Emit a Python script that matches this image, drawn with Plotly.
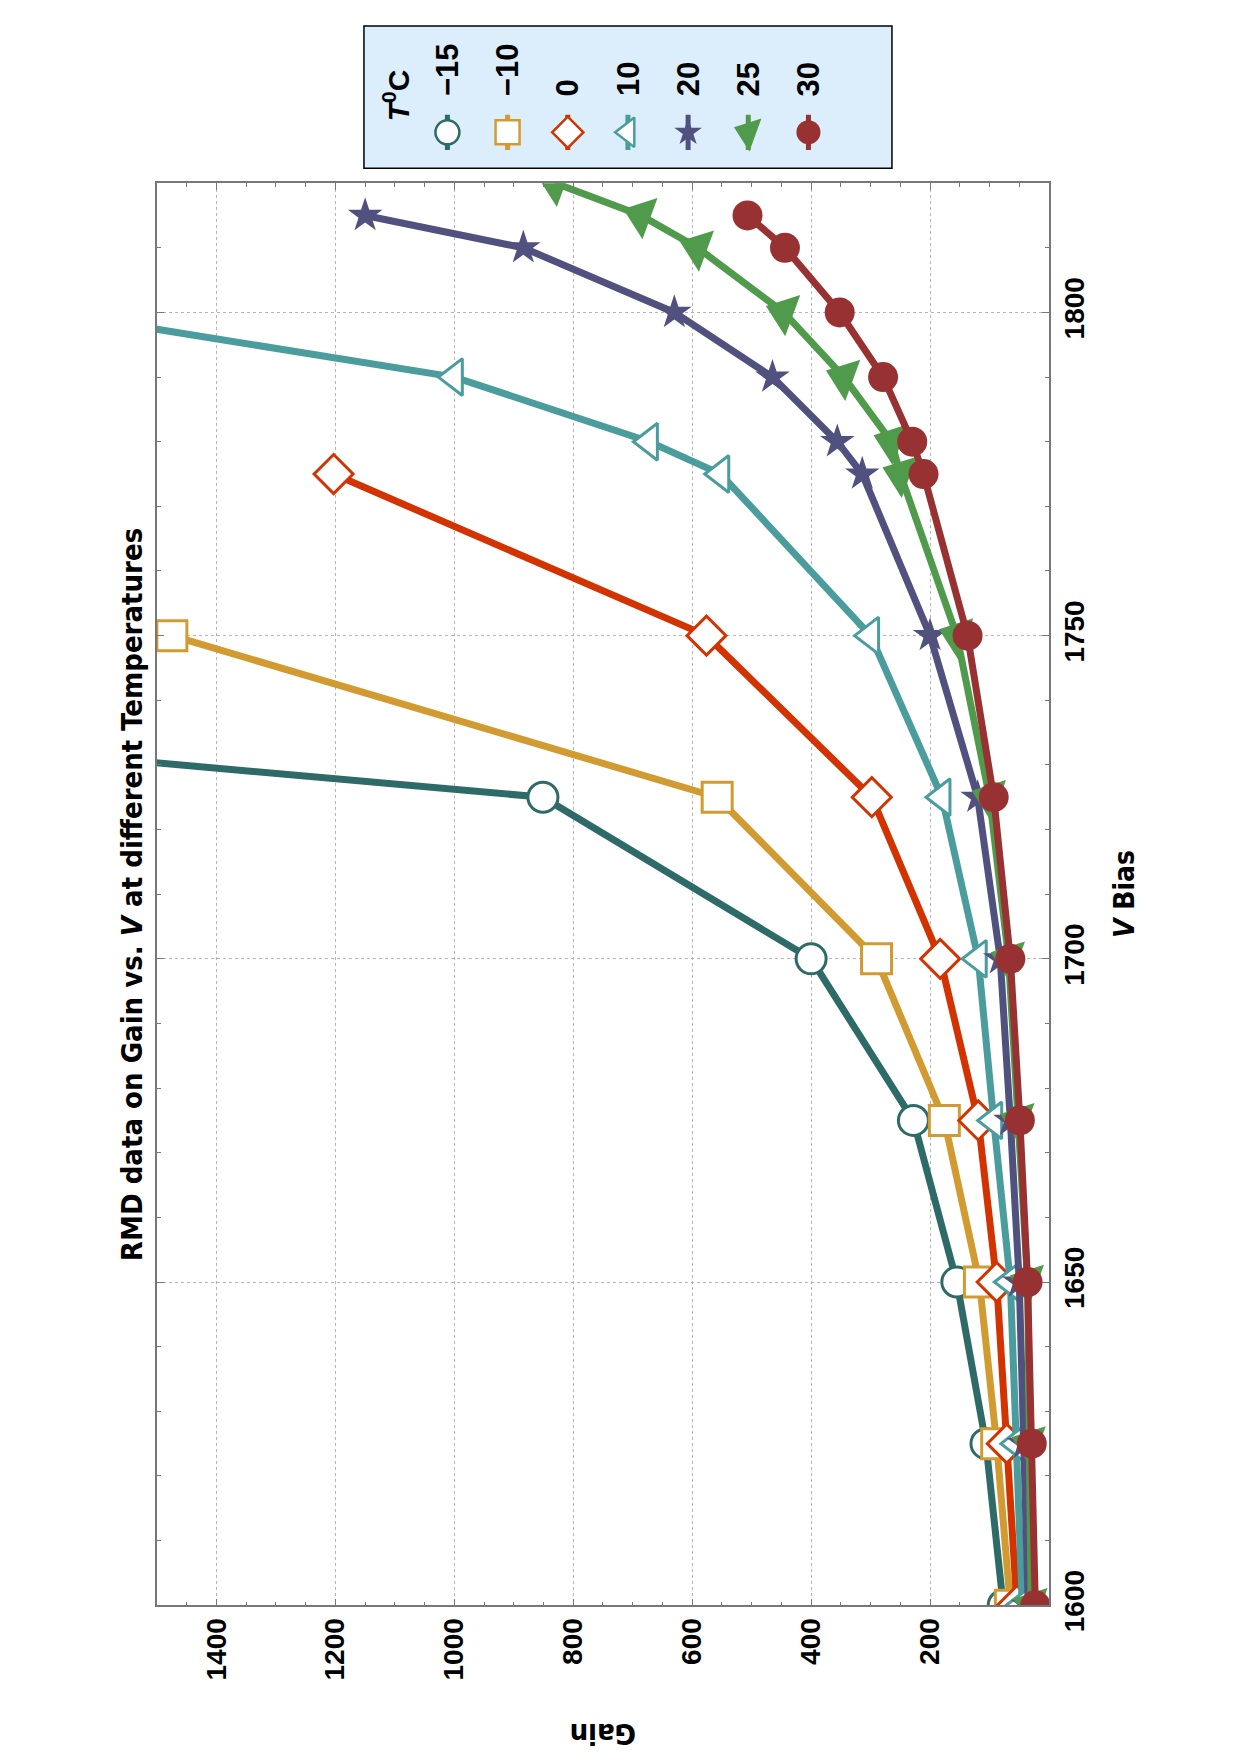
import plotly.graph_objects as go

# ---------------- data ----------------
temps = ["\u221215", "\u221210", "0", "10", "20", "25", "30"]

v_m15 = [1600, 1625, 1650, 1675, 1700, 1725, 1750]
g_m15 = [77, 106, 155, 228, 400, 851, 3900]

v_m10 = [1600, 1625, 1650, 1675, 1700, 1725, 1750]
g_m10 = [65, 88, 117, 176, 290, 558, 1475]

v_0 = [1600, 1625, 1650, 1675, 1700, 1725, 1750, 1775]
g_0 = [54, 71, 88, 119, 183, 298, 576, 1203]

v_10 = [1600, 1625, 1650, 1675, 1700, 1725, 1750, 1775, 1780, 1790, 1800]
g_10 = [45, 54, 65, 93, 119, 180, 300, 552, 672, 1000, 1676]

v_20 = [1600, 1625, 1650, 1675, 1700, 1725, 1750, 1775, 1780, 1790, 1800, 1810, 1815]
g_20 = [35, 42, 50, 65, 82, 120, 200, 314, 356, 465, 630, 884, 1150]

v_25 = [1600, 1625, 1650, 1675, 1700, 1725, 1750, 1775, 1780, 1790, 1800, 1810, 1815, 1820]
g_25 = [30, 33, 36, 52, 68, 100, 155, 250, 265, 345, 446, 591, 686, 830]

v_30 = [1600, 1625, 1650, 1675, 1700, 1725, 1750, 1775, 1780, 1790, 1800, 1810, 1815]
g_30 = [23, 29, 36, 49, 65, 93, 137, 211, 230, 279, 352, 444, 507]

gain_ticks = [200, 400, 600, 800, 1000, 1200, 1400]

series_v = [v_m15, v_m10, v_0, v_10, v_20, v_25, v_30]
series_g = [g_m15, g_m10, g_0, g_10, g_20, g_25, g_30]

# ---------------- styles ----------------
colors = ["#2e6b68", "#d29b32", "#d23300", "#4b9c9c", "#51517f", "#4f9b4b", "#983232"]
symbols = ["circle", "square", "diamond", "triangle-left", "star", "triangle-left", "circle"]
sizes = [30, 30, 30, 32, 26, 38, 30]
angles = [0, 0, 0, 0, 0, 20, 0]
open_marker = [True, True, True, True, False, False, False]

COND = "Liberation Sans Narrow, DejaVu Sans Condensed, Liberation Sans, Arial, sans-serif"
SANS = "Liberation Sans, Arial, Helvetica, sans-serif"

fig = go.Figure()

for i in range(len(temps)):
    c = colors[i]
    if open_marker[i]:
        mk = dict(symbol=symbols[i], size=sizes[i], color="white",
                  line=dict(color=c, width=3), angle=angles[i])
    else:
        mk = dict(symbol=symbols[i], size=sizes[i], color=c,
                  line=dict(color=c, width=0), angle=angles[i])
    fig.add_trace(go.Scatter(
        x=series_g[i], y=series_v[i], mode="lines+markers",
        line=dict(color=c, width=7), marker=mk,
        xaxis="x", yaxis="y", showlegend=False, name=temps[i]))

# ---------------- custom legend (second axis pair) ----------------
leg_y_marker = 133.6
leg_y0, leg_y1 = 115.7, 151.5
for i in range(len(temps)):
    c = colors[i]
    fig.add_trace(go.Scatter(
        x=[i, i], y=[leg_y0, leg_y1], mode="lines",
        line=dict(color=c, width=5), xaxis="x2", yaxis="y2",
        showlegend=False, hoverinfo="skip"))
    if open_marker[i]:
        mk = dict(symbol=symbols[i], size=sizes[i] * 0.8, color="white",
                  line=dict(color=c, width=2.5), angle=angles[i])
    else:
        mk = dict(symbol=symbols[i], size=sizes[i] * 0.8, color=c,
                  line=dict(color=c, width=0), angle=angles[i])
    fig.add_trace(go.Scatter(
        x=[i], y=[leg_y_marker], mode="markers", marker=mk,
        xaxis="x2", yaxis="y2", showlegend=False, hoverinfo="skip"))

annotations = []
for i, t in enumerate(temps):
    annotations.append(dict(
        x=i, y=99, xref="x2", yref="y2", text=t, textangle=-90,
        xanchor="center", yanchor="bottom", showarrow=False,
        font=dict(family=SANS, size=31, color="black", weight="bold")))
annotations.append(dict(
    x=-0.85, y=95.8, xref="x2", yref="y2", text="<i>T</i><sup>0</sup>C",
    textangle=-90, xanchor="center", yanchor="middle", showarrow=False,
    font=dict(family=SANS, size=30, color="black", weight="bold")))

# titles
annotations.append(dict(
    x=0.0308, y=0.484, xref="paper", yref="paper",
    text="RMD data on Gain vs. <i>V</i> at different Temperatures",
    textangle=-90, xanchor="center", yanchor="middle", showarrow=False,
    font=dict(family=COND, size=29, color="black", weight="bold")))
annotations.append(dict(
    x=0.4837, y=-0.0105, xref="paper", yref="paper", text="Gain",
    textangle=180, xanchor="center", yanchor="middle", showarrow=False,
    font=dict(family=COND, size=29, color="black", weight="bold")))
annotations.append(dict(
    x=0.9845, y=0.4846, xref="paper", yref="paper", text="<i>V</i> Bias",
    textangle=-90, xanchor="center", yanchor="middle", showarrow=False,
    font=dict(family=COND, size=28, color="black", weight="bold")))

axis_common = dict(
    showline=True, linecolor="#777777", linewidth=1.5, mirror="ticks",
    ticks="inside", ticklen=7, tickwidth=1.2, tickcolor="#777777",
    showgrid=True, gridcolor="#b5b5b5", griddash="dot", gridwidth=1.3,
    zeroline=False, tickangle=-90,
    tickfont=dict(family=SANS, size=28, color="black", weight="bold"),
)

fig.update_layout(
    width=1240, height=1755, autosize=False,
    margin=dict(l=100, r=100, t=20, b=20),
    paper_bgcolor="white", plot_bgcolor="white",
    showlegend=False,
    xaxis=dict(domain=[0.0548, 0.9125], range=[1500, 0], anchor="y",
               tickmode="array", tickvals=gain_ticks,
               ticktext=[str(v) for v in gain_ticks],
               minor=dict(tickmode="linear", tick0=0, dtick=50, ticks="inside",
                          ticklen=4, tickcolor="#777777", showgrid=False),
               **axis_common),
    yaxis=dict(domain=[0.0653, 0.9038], range=[1600, 1820], anchor="x",
               side="right", tickmode="linear", tick0=1600, dtick=50,
               minor=dict(tickmode="linear", tick0=1600, dtick=10, ticks="inside",
                          ticklen=4, tickcolor="#777777", showgrid=False),
               **axis_common),
    xaxis2=dict(domain=[0.2538, 0.7615], range=[-1.387, 7.388], anchor="y2",
                visible=False, fixedrange=True),
    yaxis2=dict(domain=[0.91254, 0.9965], range=[170, 26], anchor="x2",
                visible=False, fixedrange=True),
    shapes=[dict(type="rect", xref="x2 domain", yref="y2 domain",
                 x0=0, x1=1, y0=0, y1=1, fillcolor="#dcedfc",
                 line=dict(color="black", width=1.5), layer="below")],
    annotations=annotations,
)

fig.write_html("out.html")
